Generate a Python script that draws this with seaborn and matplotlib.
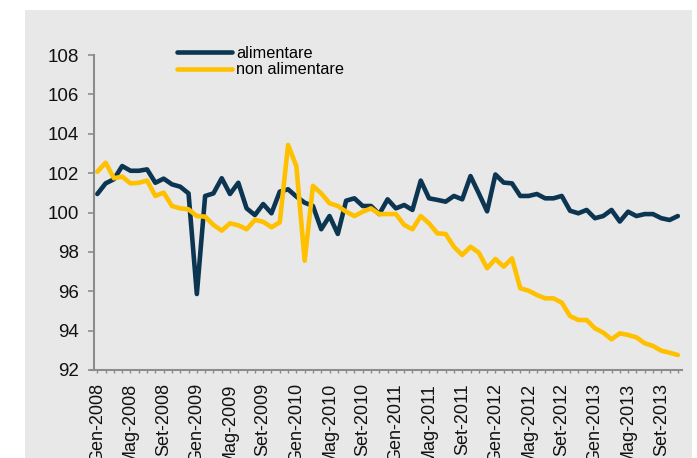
import matplotlib
matplotlib.use("Agg")
import matplotlib.pyplot as plt
from matplotlib.lines import Line2D
from matplotlib.ticker import FixedLocator, MultipleLocator
import pandas as pd
import seaborn as sns

# ---- data ----
months_it = ["Gen", "Feb", "Mar", "Apr", "Mag", "Giu", "Lug", "Ago", "Set", "Ott", "Nov", "Dic"]
periods = [f"{months_it[m]}-{y}" for y in range(2008, 2014) for m in range(12)][:71]

alimentare = [100.94, 101.48, 101.69, 102.36, 102.12, 102.12, 102.19, 101.51, 101.72, 101.43,
              101.31, 100.97, 95.86, 100.84, 100.97, 101.74, 100.94, 101.51, 100.21, 99.87,
              100.43, 99.96, 101.06, 101.18, 100.81, 100.50, 100.33, 99.15, 99.82, 98.91,
              100.60, 100.72, 100.33, 100.33, 99.92, 100.67, 100.21, 100.38, 100.13, 101.62,
              100.72, 100.64, 100.55, 100.84, 100.67, 101.85, 100.97, 100.06, 101.93, 101.52,
              101.48, 100.84, 100.84, 100.94, 100.72, 100.72, 100.84, 100.09, 99.96, 100.13,
              99.71, 99.82, 100.13, 99.54, 100.04, 99.82, 99.92, 99.92, 99.71, 99.62, 99.82]

non_alimentare = [102.07, 102.53, 101.74, 101.82, 101.48, 101.51, 101.62, 100.84, 101.01, 100.33,
                  100.21, 100.16, 99.82, 99.79, 99.37, 99.08, 99.45, 99.35, 99.15, 99.62,
                  99.53, 99.25, 99.50, 103.43, 102.35, 97.55, 101.35, 100.97, 100.47, 100.33,
                  100.04, 99.82, 100.04, 100.21, 99.92, 99.92, 99.92, 99.37, 99.15, 99.82,
                  99.45, 98.94, 98.91, 98.26, 97.84, 98.26, 97.96, 97.17, 97.64, 97.25,
                  97.67, 96.15, 96.03, 95.81, 95.64, 95.64, 95.42, 94.74, 94.54, 94.54,
                  94.12, 93.90, 93.56, 93.86, 93.78, 93.66, 93.36, 93.22, 92.98, 92.88, 92.76]

series_names = ["alimentare", "non alimentare"]
colors = ["#0c3552", "#ffc000"]
y_ticks = [92, 94, 96, 98, 100, 102, 104, 106, 108]
tick_labels = periods[::4]

df = pd.DataFrame({
    "idx": list(range(len(periods))) * 2,
    "valore": alimentare + non_alimentare,
    "serie": [series_names[0]] * len(periods) + [series_names[1]] * len(periods),
})

# ---- figure ----
plt.rcParams["font.family"] = ["Liberation Sans", "DejaVu Sans"]
W, H = 697, 458
fig = plt.figure(figsize=(W / 100, H / 100), dpi=100, facecolor="white")

bg = fig.add_axes([25 / W, 0, (692 - 25) / W, 1 - 10 / H], zorder=-5)
bg.set_facecolor("#e8e8e8")
bg.set_xticks([])
bg.set_yticks([])
for s in bg.spines.values():
    s.set_visible(False)

ax = fig.add_axes([94 / W, 1 - 370 / H, (682 - 94) / W, (370 - 55) / H], zorder=1)
ax.set_facecolor("none")

sns.lineplot(data=df, x="idx", y="valore", hue="serie", palette=colors,
             linewidth=3.3, ax=ax, legend=False, sort=False)
for ln in ax.get_lines():
    ln.set_solid_capstyle("round")
    ln.set_solid_joinstyle("round")

ax.set_xlim(-0.4, 70.5)
ax.set_ylim(92, 108)
ax.set_yticks(y_ticks)
ax.set_yticklabels([str(v) for v in y_ticks])
ax.xaxis.set_major_locator(FixedLocator(list(range(0, len(periods), 4))))
ax.set_xticklabels(tick_labels, rotation=90, ha="center", va="top")
ax.xaxis.set_minor_locator(MultipleLocator(1))
ax.set_xlabel("")
ax.set_ylabel("")

for s in ["top", "right"]:
    ax.spines[s].set_visible(False)
for s in ["left", "bottom"]:
    ax.spines[s].set_color("#8c8c8c")
    ax.spines[s].set_linewidth(1.5)
ax.spines["bottom"].set_bounds(-0.75, 70.5)

ax.tick_params(axis="y", which="major", length=4.5, width=1.2, color="#8c8c8c",
               pad=6.5, labelsize=13.5, labelcolor="#111111")
ax.tick_params(axis="x", which="major", length=2.5, width=1.0, color="#8c8c8c",
               pad=7, labelsize=13, labelcolor="#111111")
ax.tick_params(axis="x", which="minor", length=2.5, width=1.0, color="#8c8c8c")

handles = [Line2D([], [], color=c, linewidth=3.3, solid_capstyle="round") for c in colors]
fig.legend(handles, series_names, loc="upper left", bbox_to_anchor=(177 / W, 1 - 46 / H),
           frameon=False, fontsize=11.7, handlelength=3.4, handletextpad=0.25,
           labelspacing=0.08, borderpad=0, borderaxespad=0)

fig.savefig("out.png", dpi=100, facecolor="white")
